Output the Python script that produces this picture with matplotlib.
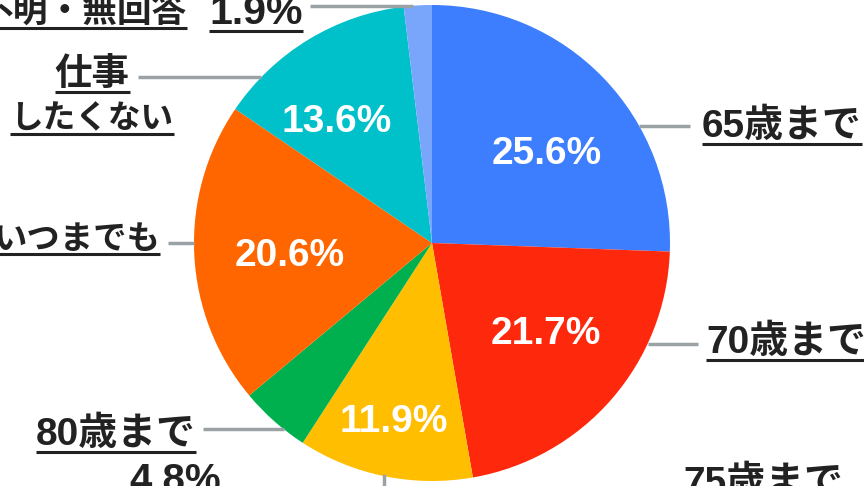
import numpy as np
import matplotlib
matplotlib.use("Agg")
import matplotlib.pyplot as plt

# ---- data ----
categories = ["65歳まで", "70歳まで", "75歳まで", "80歳まで", "いつまでも", "仕事\nしたくない", "不明・無回答"]
values = [25.6, 21.7, 11.9, 4.8, 20.6, 13.6, 1.9]
pct_labels = ["25.6%", "21.7%", "11.9%", "4.8%", "20.6%", "13.6%", "1.9%"]

# ---- style ----
colors = ["#3D7EFE", "#FE290C", "#FFBE00", "#00AF4E", "#FF6600", "#00C1CA", "#79A6FB"]
W, H = 864, 486
CX, CY, R = 432, 243, 238
FONT = ["Liberation Sans", "Noto Sans CJK JP"]
TXT = "#222222"
LEAD = "#9AA2A6"
FS = 28

plt.rcParams['font.family'] = FONT

fig = plt.figure(figsize=(W / 100, H / 100), dpi=100)
ax = fig.add_axes([0, 0, 1, 1])
ax.set_xlim(0, W)
ax.set_ylim(0, H)
ax.set_aspect('equal')
ax.axis('off')

wedges, _ = ax.pie(values, colors=colors, startangle=90, counterclock=False,
                   center=(CX, H - CY), radius=R, wedgeprops=dict(linewidth=0))
ax.set_xlim(0, W)
ax.set_ylim(0, H)

# inside percentage labels: (radial fraction, angle offset deg); None = outside
inside = [(0.61, -6), (0.61, 2.5), (0.77, -0.5), None, (0.60, 2.3), (0.65, 7), None]
for w, lab, pos in zip(wedges, pct_labels, inside):
    if pos is None:
        continue
    frac, doff = pos
    mid = np.deg2rad((w.theta1 + w.theta2) / 2 + doff)
    x = CX + frac * R * np.cos(mid)
    y = (H - CY) + frac * R * np.sin(mid)
    ax.text(x, y, lab, color="white", fontsize=FS, fontweight="bold",
            ha="center", va="center")

fig.canvas.draw()
renderer = fig.canvas.get_renderer()
inv = ax.transData.inverted()


def ulabel(x, ypx, s, ha, fs=FS):
    t = ax.text(x, H - ypx, s, color=TXT, fontsize=fs, fontweight="bold",
                ha=ha, va="center")
    bb = t.get_window_extent(renderer)
    (x0, y0), (x1, y1) = inv.transform([[bb.x0, bb.y0], [bb.x1, bb.y1]])
    ax.plot([x0, x1], [y0 + 1, y0 + 1], color=TXT, lw=2.2, solid_capstyle='butt')
    return t


def edge_x(ypx, side):
    dy = ypx - CY
    return CX + side * np.sqrt(max(R ** 2 - dy ** 2, 0))


def hlead(ypx, xlab, side):
    ax.plot([edge_x(ypx, side), xlab], [H - ypx, H - ypx], color=LEAD, lw=2.5,
            solid_capstyle='butt')


# 65歳まで
ulabel(702, 127, categories[0], "left")
hlead(126, 690, 1)
# 70歳まで
ulabel(706, 343, categories[1], "left")
hlead(344, 698, 1)
# 75歳まで
ulabel(683, 484, categories[2], "left")
xl = 384
ax.plot([xl, xl], [H - (CY + np.sqrt(R ** 2 - (xl - CX) ** 2)), -20], color=LEAD, lw=2.5)
# 80歳まで
ulabel(196, 435, categories[3], "right")
ulabel(221, 481, pct_labels[3], "right", fs=29)
hlead(429, 203, -1)
# いつまでも
ulabel(160, 240, categories[4], "right", fs=24)
hlead(243, 168, -1)
# 仕事 / したくない
l1, l2 = categories[5].split("\n")
ulabel(92, 75, l1, "center", fs=27)
ulabel(92, 120, l2, "center", fs=23.5)
hlead(77, 138, -1)
# 不明・無回答 1.9%
ulabel(187, 13, categories[6], "right", fs=25)
ulabel(209, 13, pct_labels[6], "left", fs=29.5)
ax.plot([310, 413], [H - 6, H - 6], color=LEAD, lw=2.5, solid_capstyle='butt')

fig.savefig("out.png", dpi=100)
